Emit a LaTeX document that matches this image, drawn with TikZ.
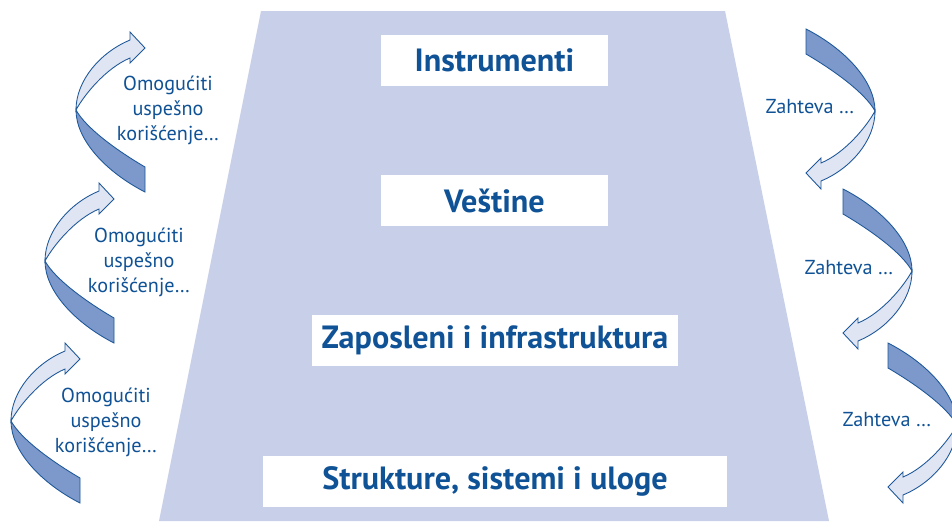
\documentclass[tikz,border=0pt]{standalone}
\usepackage{fontspec}
\setmainfont{PT Sans}
\definecolor{panel}{RGB}{200,207,232}
\definecolor{darkband}{RGB}{125,152,202}
\definecolor{lightband}{RGB}{223,229,243}
\definecolor{edgeblue}{RGB}{30,88,154}
\definecolor{txtblue}{RGB}{16,82,150}
\tikzset{
  banddark/.style={fill=darkband, draw=edgeblue, line width=0.5pt, line join=miter},
  bandlight/.style={fill=lightband, draw=edgeblue, line width=0.5pt, line join=miter},
  note/.style={font=\fontsize{11.5}{14.2}\selectfont, text=txtblue, align=center, inner sep=0pt},
  layer/.style={fill=white, text=txtblue, inner sep=0pt, minimum height=1.02cm,
    font=\bfseries\fontsize{18.3}{21}\selectfont},
  % curved arrow: leftmost point at the origin, tail at the lower right, head at the upper right
  bendarrow/.pic={
    \draw[banddark] (0,0) .. controls (0,30) and (30,62) .. (69,82) -- (69,57)
      .. controls (40,40) and (10,18) .. (0,0) -- cycle;
    \draw[bandlight] (0,0) .. controls (0,-30) and (25,-58) .. (54,-70) -- (54,-78)
      -- (69,-62) -- (54,-47) -- (54,-52) .. controls (30,-42) and (8,-15) .. (0,0) -- cycle;
  }
}
\begin{document}
\begin{tikzpicture}[x=0.02cm, y=-0.02cm]
\useasboundingbox (0,0) rectangle (952,521);
\fill[white] (0,0) rectangle (952,521);

% widening panel
\fill[panel] (261,11) -- (725,11) -- (829,521) -- (159,521) -- cycle;

% layers
\node[layer, minimum width=4.54cm] (instr) at (494.5,60.5) {Instrumenti};
\node[layer, minimum width=4.54cm] (vest)  at (494.5,200.5) {Veštine};
\node[layer, minimum width=7.32cm] (zap)   at (495,340) {Zaposleni i infrastruktura};
\node[layer, minimum width=9.28cm] (strk)  at (495,481.5) {Strukture, sistemi i uloge};

% left column: upward arrows
\pic at (76,110) {bendarrow};
\pic at (45,261) {bendarrow};
\pic at (11,421) {bendarrow};
\node[note] (up1) at (168,110) {Omogućiti\\uspešno\\korišćenje…};
\node[note] (up2) at (139,262) {Omogućiti\\uspešno\\korišćenje…};
\node[note] (up3) at (106,422) {Omogućiti\\uspešno\\korišćenje…};

% right column: downward arrows
\pic[rotate=180] at (875,111) {bendarrow};
\pic[rotate=180] at (912,271) {bendarrow};
\pic[rotate=180] at (957,425) {bendarrow};
\node[note] (dn1) at (810,107) {Zahteva …};
\node[note] (dn2) at (849,268) {Zahteva …};
\node[note] (dn3) at (887,420) {Zahteva …};
\end{tikzpicture}
\end{document}
